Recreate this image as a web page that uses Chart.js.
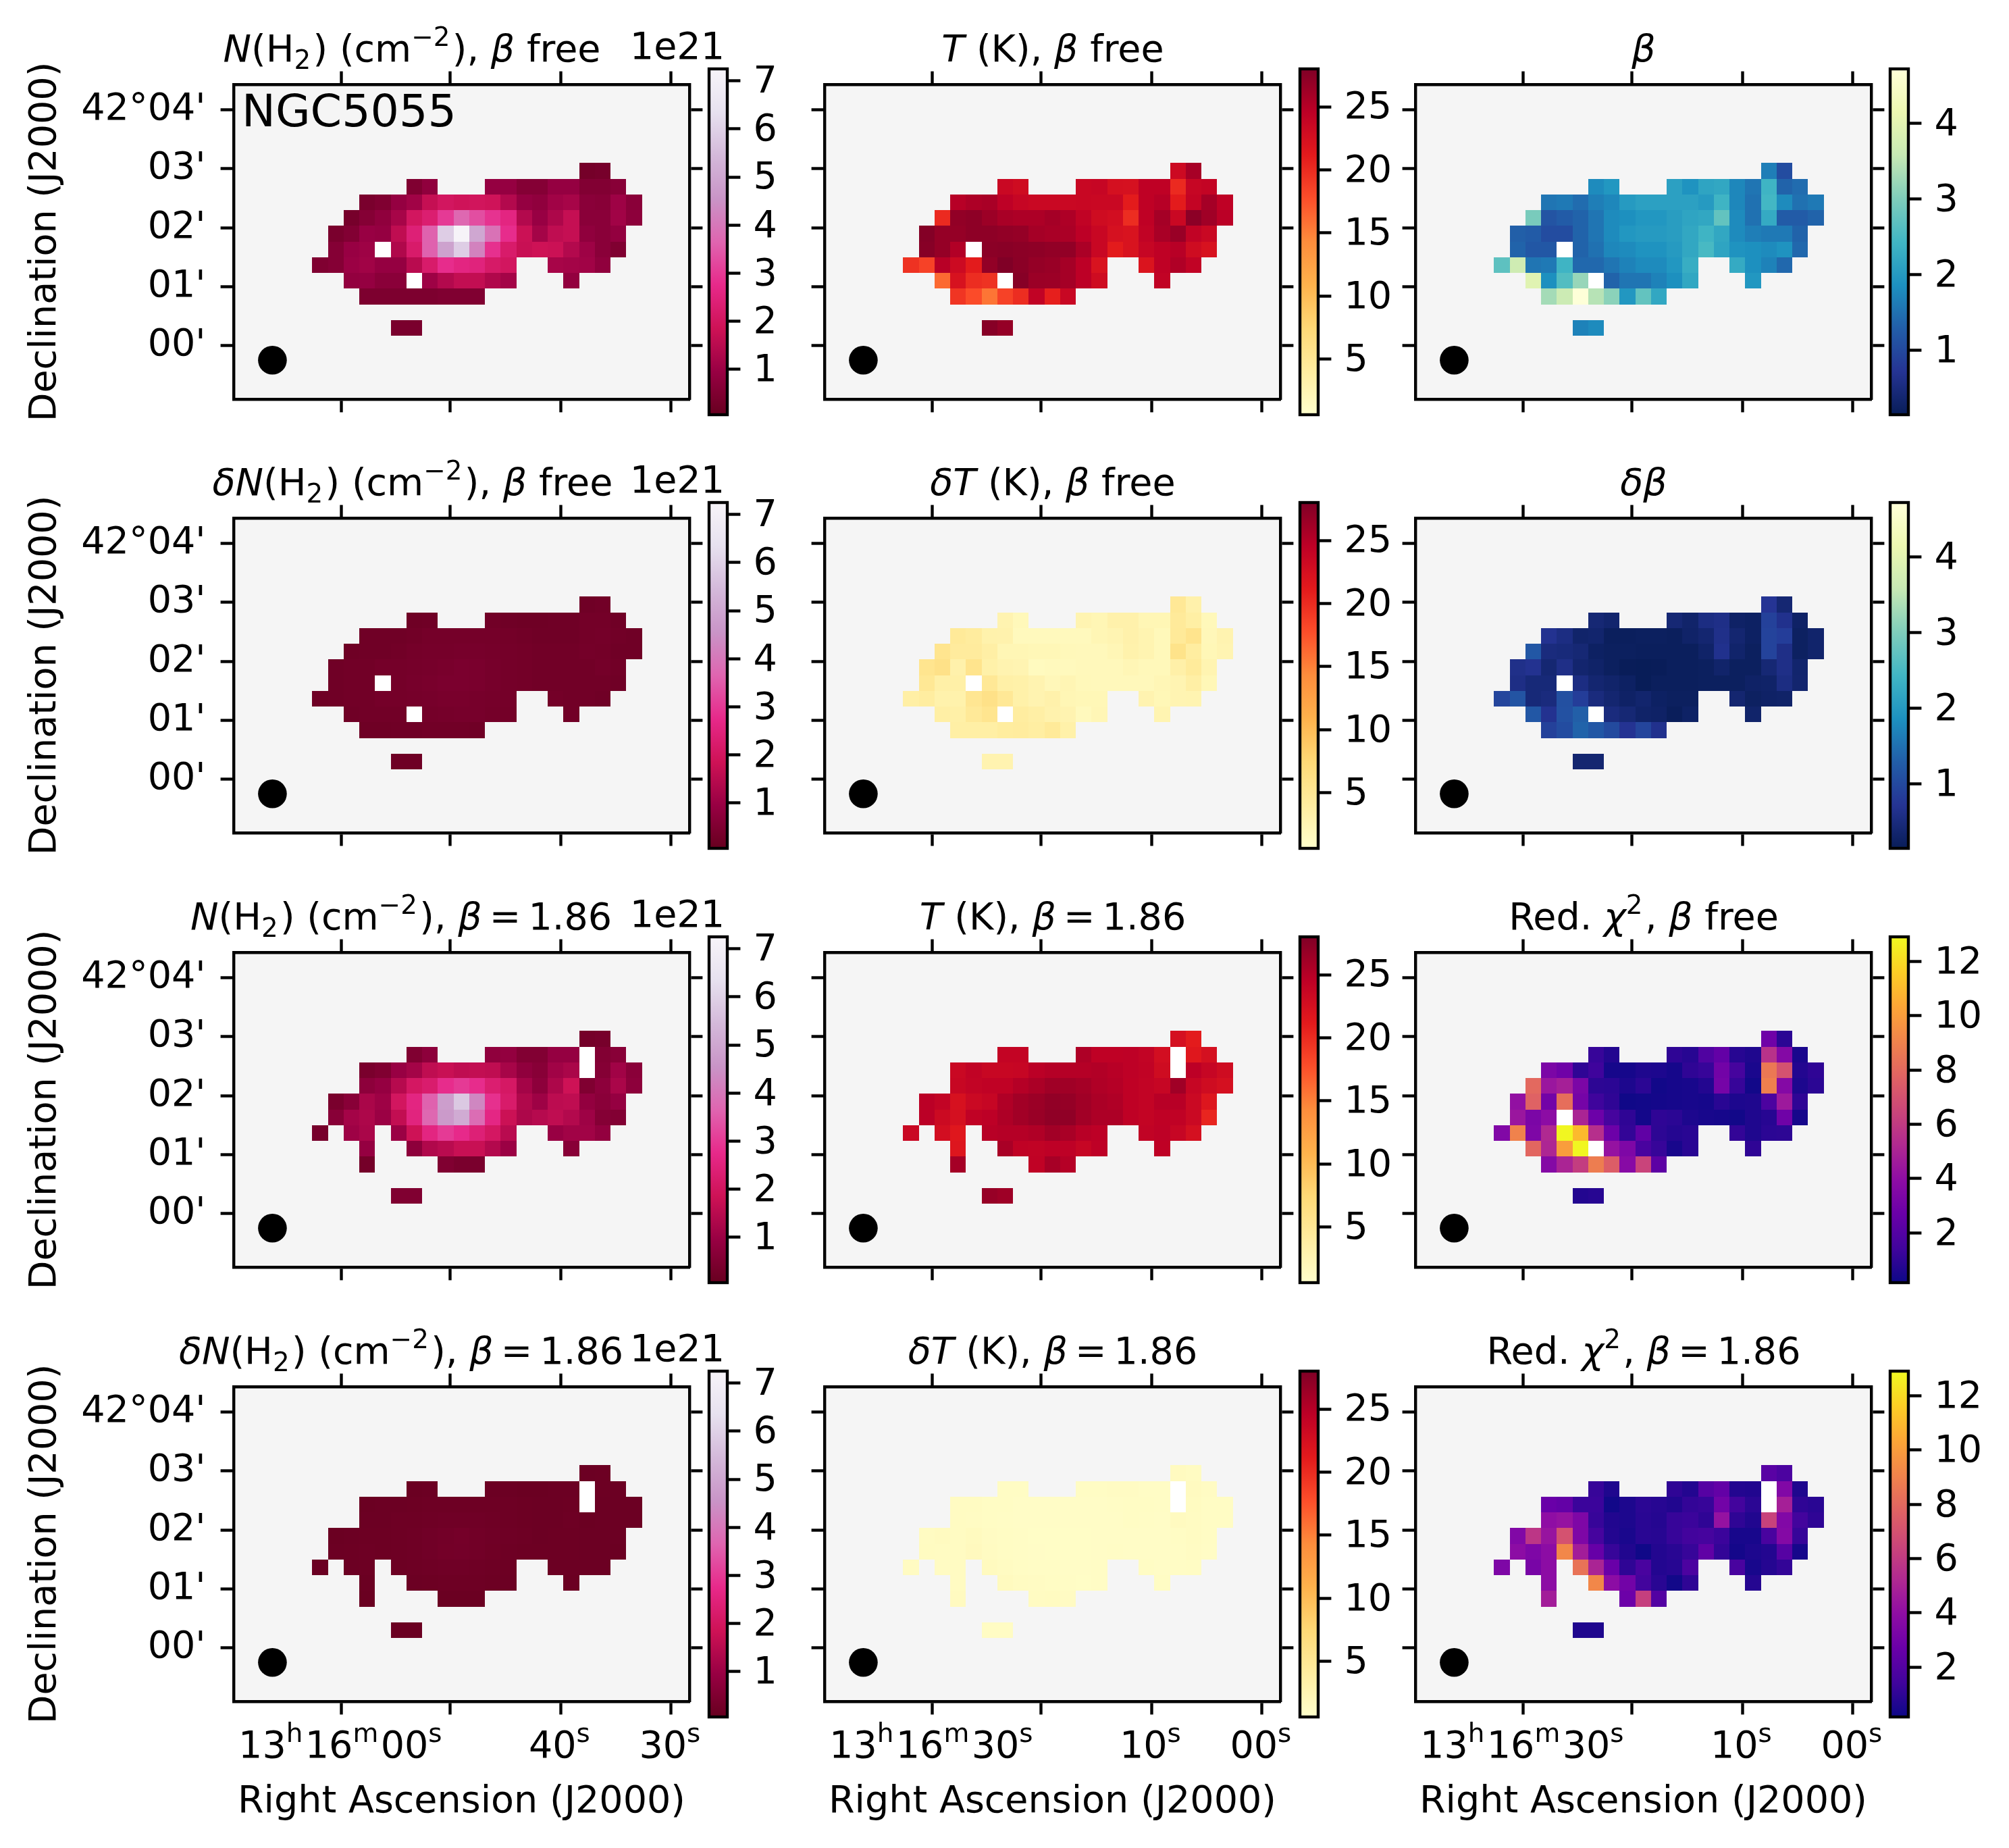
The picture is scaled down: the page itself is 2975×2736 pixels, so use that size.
<!DOCTYPE html>
<html>
<head>
<meta charset="UTF-8">
<title>NGC5055</title>
<script src="https://cdn.jsdelivr.net/npm/chart.js"></script>
<style>
  body { margin: 0; background: #fff; }
  #page { position: relative; width: 2975px; height: 2736px; overflow: hidden; }
  canvas { position: absolute; }
</style>
</head>
<body>
<div id="page"></div>
<script>
const _ = null, H = Infinity; // _ = no data, H = failed fit pixel (drawn white)

// each map: rows top to bottom, columns left to right, trimmed to the source's box
const nFree = [
  [_,_,_,_,_,_,_,_,_,_,_,_,_,_,_,_,_,.3,.35],
  [_,_,_,_,_,_,.5,.8,_,_,_,.9,.9,.6,.6,.9,.9,.55,.55,.65],
  [_,_,_,.4,.5,.9,1.1,1.7,2,1.9,1.95,1.9,1.4,.9,.8,1.1,1.2,.7,.65,1.05,.7],
  [_,_,.35,.6,.8,1.2,2,2.3,3,3.7,3.3,2.9,2.6,1.4,.95,1.3,1.7,.7,.7,1.1,.75],
  [_,.4,.55,.95,.9,1.6,2.4,3.6,5.9,7.2,5,3.9,2.8,1.8,1.15,1.6,1.7,.8,.7,.85],
  [_,.6,.95,1.05,H,1.35,2.2,3.6,4.9,5.9,4.2,2.85,2.2,1.75,1.85,1.8,1.4,1.05,.7,.5],
  [.5,.6,1,1.1,.9,.9,1.5,2.2,2.8,2.6,2.5,2.15,2,_,_,1.2,1.15,1.1,.8],
  [_,_,.85,.9,.7,.7,H,1.05,1.4,1.65,1.65,1.35,1.15,_,_,_,.85],
  [_,_,_,.45,.45,.45,.45,.45,.5,.5,.5],
  [],
  [_,_,_,_,_,.4,.4]
];
const dnFree = [
  [_,_,_,_,_,_,_,_,_,_,_,_,_,_,_,_,_,.22,.25],
  [_,_,_,_,_,_,.2,.22,_,_,_,.25,.22,.2,.2,.22,.22,.28,.28,.22],
  [_,_,_,.22,.22,.22,.25,.3,.3,.3,.3,.3,.28,.25,.22,.22,.22,.28,.3,.25,.22],
  [_,_,.2,.22,.22,.25,.3,.32,.32,.35,.35,.32,.3,.28,.25,.25,.25,.3,.28,.22,.22],
  [_,.22,.25,.25,.3,.3,.32,.35,.38,.42,.4,.35,.3,.28,.25,.25,.25,.25,.3,.25],
  [_,.22,.25,.25,H,.3,.35,.38,.42,.42,.4,.35,.3,.28,.25,.25,.25,.25,.25,.22],
  [.2,.22,.25,.25,.3,.3,.32,.35,.38,.38,.35,.32,.3,_,_,.28,.25,.25,.22],
  [_,_,.22,.25,.25,.25,H,.3,.32,.35,.35,.3,.28,_,_,_,.25],
  [_,_,_,.2,.2,.22,.22,.25,.25,.25,.22],
  [],
  [_,_,_,_,_,.2,.2]
];
const nFix = [
  [_,_,_,_,_,_,_,_,_,_,_,_,_,_,_,_,_,.3,.35],
  [_,_,_,_,_,_,.5,.75,_,_,_,.8,.85,.55,.55,.9,.9,H,.55,.65],
  [_,_,_,.4,.5,.95,1.15,1.6,1.75,1.6,1.65,1.6,1.2,.8,.65,1.1,1.25,H,.6,1.1,.7],
  [_,_,_,.75,.9,1.45,2.05,2.25,2.8,3,2.8,2.3,2.1,1.15,.75,1.3,1.85,.5,.75,1.25,.75],
  [_,.4,.65,1.25,1.05,2,2.6,3.6,4.8,5.8,4.3,2.85,2.2,1.35,1.05,1.55,1.6,.85,.7,.9],
  [_,.65,1.15,1.3,1,1.65,2.55,3.7,4.7,5.1,3.8,2.65,1.8,1.3,1.45,1.6,1.4,1.05,.6,.55],
  [.35,_,1.05,1.25,_,1,1.85,2.6,3,2.75,2.4,2.05,1.5,_,_,.95,1.1,1.1,.85],
  [_,_,_,.9,_,_,.75,1.35,1.5,1.75,1.75,1.4,1,_,_,_,.65],
  [_,_,_,.3,_,_,_,_,.5,.4,.4],
  [],
  [_,_,_,_,_,.5,.5]
];
const dnFix = [
  [_,_,_,_,_,_,_,_,_,_,_,_,_,_,_,_,_,.14,.16],
  [_,_,_,_,_,_,.13,.14,_,_,_,.15,.15,.13,.13,.15,.15,H,.16,.15],
  [_,_,_,.13,.14,.15,.16,.18,.18,.18,.18,.18,.17,.16,.14,.15,.16,H,.14,.15,.14],
  [_,_,_,.14,.15,.17,.18,.2,.22,.22,.22,.2,.18,.16,.14,.15,.17,.13,.14,.15,.14],
  [_,.13,.14,.16,.16,.18,.2,.24,.27,.3,.26,.22,.19,.17,.15,.16,.16,.14,.14,.14],
  [_,.14,.16,.17,.16,.18,.2,.24,.28,.29,.25,.21,.18,.16,.16,.16,.16,.15,.14,.13],
  [.12,_,.15,.16,_,.16,.18,.2,.22,.22,.2,.18,.16,_,_,.15,.15,.15,.14],
  [_,_,_,.13,_,_,.14,.16,.17,.18,.18,.16,.15,_,_,_,.13],
  [_,_,_,.11,_,_,_,_,.13,.12,.12],
  [],
  [_,_,_,_,_,.12,.12]
];
const tFree = [
  [_,_,_,_,_,_,_,_,_,_,_,_,_,_,_,_,_,23.2,25.8],
  [_,_,_,_,_,_,23.5,23,_,_,_,23.6,23.8,22.5,22.4,24.4,24.4,20.1,23.8,24],
  [_,_,_,24.9,25.5,25.7,24.5,23.8,23.5,23.5,23.5,23.6,23.5,23.5,21.1,24.4,24.9,21.1,24,25.9,24.4],
  [_,_,20.1,27,27.2,26.4,25.7,25.5,25.5,25.9,25.4,24.2,23,22.7,19.9,24.4,25.9,23.5,27.3,26.2,24.7],
  [_,27.8,26.8,26.8,27.2,27.2,27,26.8,25.9,25.7,25.6,24.6,23.6,22.4,22.1,24.2,25.7,26.6,24.2,23.5],
  [_,27.6,26.8,25.2,H,27.4,27.5,27.3,27.2,27,27,25.6,23.6,21.1,22.1,23.8,24.4,24.85,23,22.2],
  [19.6,18.5,24.85,23.2,21.1,27,28,27.4,26.8,26.6,25.9,24.6,22.1,_,_,22,24.4,25.3,24.2],
  [_,_,16.2,22.2,19.9,19.6,H,27.6,26.5,26.4,25.9,24.6,23,_,_,_,24.2],
  [_,_,_,19.4,17.9,15.6,18.5,19.9,24.2,20.8,23.6],
  [],
  [_,_,_,_,_,27.6,26.8]
];
const dtFree = [
  [_,_,_,_,_,_,_,_,_,_,_,_,_,_,_,_,_,4.8,3.2],
  [_,_,_,_,_,_,2.8,2,_,_,_,2.7,2.4,3.2,3.2,2.4,2.4,4.5,3.7,2],
  [_,_,_,4.6,4.2,3.1,3,1.8,1.8,1.8,1.8,1.8,2.4,2.6,3.2,2.7,2,4.6,5.6,2.1,2.8],
  [_,_,5.4,4.3,4.3,3.6,2.4,2.4,2.2,2.2,2,1.9,1.9,2.3,3.1,2.7,2,5.8,4,2.2,2.6],
  [_,5.4,6,3.2,5.6,3.3,2.8,2.6,1.6,1.8,1.8,1.9,1.9,1.9,2.3,2,2,3.4,4.4,2.7],
  [_,4.9,3.5,3.5,H,4.8,3.5,3.3,2.8,2.1,2.5,2,1.9,1.9,1.9,1.9,2.3,2.6,3.6,2.2],
  [3.6,4,3.1,3.1,5.2,6,4.8,3.3,2.8,3.2,2.4,2.2,2.2,_,_,2.8,2.2,2.6,2.7],
  [_,_,3.6,3.5,4.7,5.4,H,4,3.6,3,2.8,1.8,2.3,_,_,_,2.7],
  [_,_,_,3.6,3.6,3.6,4.1,4.2,3.9,4.6,3.3],
  [],
  [_,_,_,_,_,2.8,2.8]
];
const tFix = [
  [_,_,_,_,_,_,_,_,_,_,_,_,_,_,_,_,_,22.5,21.1],
  [_,_,_,_,_,_,24,24,_,_,_,25.4,24.4,24.4,24.5,24.1,22.7,H,21.5,22.5],
  [_,_,_,23.5,24.2,23.7,23.7,23.8,24.7,25,25,25,25.2,24.85,24.5,24.2,23,H,24.6,23.8,23],
  [_,_,_,23.7,24.1,24.3,24.3,25,25.6,26.2,26.2,25.9,25.3,25,24.4,24.1,23.8,26.2,23.8,23,22.5],
  [_,24.7,24.1,22.3,23.4,23.8,25.3,26.1,26.5,27,26.8,26.2,25.6,25.3,24.4,24.1,24.85,24.85,23.4,21.7],
  [_,24.7,23.3,22.5,24.3,24.6,25.4,26.1,26.6,27.1,27.1,26.1,25.5,25.5,24.4,24,24.4,24.3,23.4,20.4],
  [23.5,_,22.7,21.5,_,24.85,25,25,25.3,26.1,25.7,24.85,24.6,_,_,24.2,24.5,23.8,22.5],
  [_,_,_,21.7,_,_,25.7,24.3,24.2,24.5,24.5,23.8,24.5,_,_,_,24.4],
  [_,_,_,25.9,_,_,_,_,24.3,25.8,25],
  [],
  [_,_,_,_,_,26.7,26.3]
];
const dtFix = [
  [_,_,_,_,_,_,_,_,_,_,_,_,_,_,_,_,_,1.5,1.4],
  [_,_,_,_,_,_,1.25,1.2,_,_,_,1.2,1.2,1.3,1.3,1.15,1.15,H,1.5,1.3],
  [_,_,_,1.4,1.35,1.25,1.2,1.1,1.1,1.1,1.1,1.1,1.1,1.15,1.25,1.2,1.15,H,1.45,1.2,1.25],
  [_,_,_,1.35,1.3,1.25,1.15,1.1,1.1,1.1,1.1,1.1,1.1,1.1,1.25,1.15,1.1,1.5,1.35,1.2,1.2],
  [_,1.4,1.5,1.4,1.6,1.3,1.2,1.15,1.05,1.05,1.05,1.05,1.1,1.1,1.1,1.1,1.1,1.2,1.4,1.25],
  [_,1.45,1.35,1.35,1.7,1.35,1.2,1.15,1.1,1.05,1.05,1.05,1.1,1.15,1.1,1.1,1.1,1.15,1.3,1.15],
  [1.4,_,1.3,1.35,_,1.6,1.4,1.2,1.15,1.15,1.1,1.1,1.15,_,_,1.2,1.1,1.15,1.2],
  [_,_,_,1.4,_,_,1.6,1.35,1.3,1.2,1.15,1.05,1.15,_,_,_,1.2],
  [_,_,_,1.5,_,_,_,_,1.35,1.45,1.3],
  [],
  [_,_,_,_,_,1.2,1.2]
];
const betaFree = [
  [_,_,_,_,_,_,_,_,_,_,_,_,_,_,_,_,_,1.65,1.05],
  [_,_,_,_,_,_,1.8,1.95,_,_,_,2.1,1.9,2.15,2.2,1.75,1.55,2.4,1.35,1.45],
  [_,_,_,1.55,1.6,1.45,1.65,1.75,2,2.1,2.1,2.1,2.1,2,2.4,1.75,1.5,2.45,1.8,1.5,1.6],
  [_,_,2.95,1.15,1.25,1.35,1.55,1.8,1.85,1.95,1.95,2.05,2.15,2.2,2.75,1.8,1.5,2.25,1.25,1.25,1.35],
  [_,1.3,1.25,1.05,1.05,1.35,1.55,1.8,1.95,2,2,2.05,2.2,2.4,2.2,1.8,1.65,1.6,1.6,1.35],
  [_,1.35,1.2,1.2,H,1.35,1.5,1.75,1.8,1.9,1.9,2,2.2,2.5,2.15,1.9,1.85,1.8,1.9,1.4],
  [2.7,3.7,1.55,1.6,2.4,1.4,1.4,1.55,1.7,1.8,1.8,1.95,2.3,_,_,2.25,1.85,1.7,1.4],
  [_,_,3.95,1.85,2.6,3.2,H,1.35,1.55,1.55,1.7,1.85,2.2,_,_,_,1.95],
  [_,_,_,3.3,3.65,4.7,3.45,3.1,1.95,2.75,2.2],
  [],
  [_,_,_,_,_,1.7,1.8]
];
const dBeta = [
  [_,_,_,_,_,_,_,_,_,_,_,_,_,_,_,_,_,.72,.4],
  [_,_,_,_,_,_,.42,.35,_,_,_,.42,.32,.55,.6,.28,.25,.9,.65,.28],
  [_,_,_,.68,.55,.32,.35,.2,.2,.22,.22,.2,.3,.38,.62,.38,.25,.92,.85,.24,.33],
  [_,_,1.2,.5,.47,.42,.25,.22,.22,.2,.2,.2,.2,.3,.65,.33,.22,.92,.6,.24,.33],
  [_,.62,.68,.4,.6,.36,.3,.22,.16,.14,.16,.2,.2,.22,.32,.22,.22,.42,.6,.35],
  [_,.58,.45,.45,H,.55,.38,.32,.25,.14,.2,.2,.2,.22,.22,.22,.28,.3,.55,.36],
  [.95,1.15,.45,.5,1.1,.85,.5,.38,.28,.35,.25,.22,.22,_,_,.38,.24,.28,.3],
  [_,_,1.2,.68,1.12,1.3,H,.5,.42,.3,.28,.18,.27,_,_,_,.32],
  [_,_,_,.9,1.05,1.35,1.2,1.02,.7,.95,.65],
  [],
  [_,_,_,_,_,.38,.38]
];
const chiFree = [
  [_,_,_,_,_,_,_,_,_,_,_,_,_,_,_,_,_,2.9,.9],
  [_,_,_,_,_,_,1.2,.7,_,_,_,1,.8,1.9,2.5,.8,.6,5.6,3.6,.5],
  [_,_,_,3.3,2.9,1,1.4,.4,.4,.6,.55,.4,1,1.2,3,1.6,.5,8.6,7,.7,1],
  [_,_,8,4.4,4.8,3.3,.95,.9,.55,.9,.3,.4,.45,.7,3.1,1.2,.3,8.9,3.6,.55,.9],
  [_,4.1,7.7,3,8.2,3.1,1.4,1,.25,.3,.35,.4,.45,.4,.85,.55,.6,1.8,4.5,1],
  [_,4.4,3.3,3.9,H,5,2.8,1.6,1,.35,1,.9,.55,.45,.4,.3,.6,.8,2.9,.4],
  [3.5,9,3.4,5.2,12.8,11,5.5,2.8,1.1,2.4,.95,.75,.85,_,_,1.1,.6,.9,.95],
  [_,_,7.9,5.1,10,12.8,H,4.2,3.4,1.7,1.2,.45,.85,_,_,_,1],
  [_,_,_,3.6,5,6.1,8.8,7.5,3.7,6.4,2.3],
  [],
  [_,_,_,_,_,.7,.8]
];
const chiFix = [
  [_,_,_,_,_,_,_,_,_,_,_,_,_,_,_,_,_,2.2,1.8],
  [_,_,_,_,_,_,1.2,.6,_,_,_,1,.7,2.1,2.5,.7,.65,H,3.5,.6],
  [_,_,_,2.7,2.5,1.3,1.3,.3,.55,.9,.8,.65,1.1,1.2,3,1.5,.9,H,4.8,1,.85],
  [_,_,_,4,4.2,3.4,1.2,.65,.55,.85,.75,1.2,1.3,1,4.2,1,.65,6.3,3.5,1.5,1],
  [_,3.5,5.8,4.3,7,3.4,1.6,.7,.5,.85,.8,1.2,1.5,1.6,1.3,.45,.45,1.7,3.6,1.2],
  [_,3.9,3.4,3.9,9.2,4.7,2.6,1.2,.65,.25,.7,.85,1.2,2.4,1.1,.35,.55,.7,2.1,.4],
  [3.4,_,3.2,3.9,_,8.4,5,2.7,1,1.7,.7,.8,1.8,_,_,1.7,.45,.75,1.1],
  [_,_,_,3.9,_,_,9.2,3.9,3,1.5,.85,.3,1,_,_,_,.75],
  [_,_,_,4.7,_,_,_,_,2.8,6.2,2],
  [],
  [_,_,_,_,_,.6,.6]
];

// colour scale limits and colour bar ticks
const nRange = [.05, 7.25],  nTicks = [1, 2, 3, 4, 5, 6, 7];
const tRange = [.6, 28],     tTicks = [5, 10, 15, 20, 25];
const betaRange = [.15, 4.72], betaTicks = [1, 2, 3, 4];
const chiRange = [.17, 12.9], chiTicks = [2, 4, 6, 8, 10, 12];

const puRdR = ['#67001f','#980043','#ce1256','#e7298a','#df65b0','#c994c7','#d4b9da','#e7e1ef','#f7f4f9'];
const ylOrRd = ['#ffffcc','#ffeda0','#fed976','#feb24c','#fd8d3c','#fc4e2a','#e31a1c','#bd0026','#800026'];
const ylGnBuR = ['#081d58','#253494','#225ea8','#1d91c0','#41b6c4','#7fcdbb','#c7e9b4','#edf8b1','#ffffd9'];
const plasma = ['#0d0887','#41049d','#6a00a8','#8f0da4','#b12a90','#cc4778','#e16462','#f1844b','#fca636','#fcce25','#f0f921'];

// axis ticks, in pixels of the map
const raTicks = [6.86, 13.8, 20.82, 27.85];
const decTicks = [1.61, 5.37, 9.13, 12.88, 16.62];
const decLabels = ["42°04'", "03'", "02'", "01'", "00'"];
const raLabelsA = ['13h16m00s', '', '40s', '30s'];
const raLabelsB = ['13h16m30s', '', '10s', '00s'];

const BETA = ['β', 'i'];
const titleNFree = [['N','i'],['(H'],['2','sub'],[') (cm'],['−2','sup'],['), '],BETA,[' free']];
const titleDnFree = [['δN','i'],['(H'],['2','sub'],[') (cm'],['−2','sup'],['), '],BETA,[' free']];
const titleNFix = [['N','i'],['(H'],['2','sub'],[') (cm'],['−2','sup'],['), '],BETA,['\u2009=\u20091.86']];
const titleDnFix = [['δN','i'],['(H'],['2','sub'],[') (cm'],['−2','sup'],['), '],BETA,['\u2009=\u20091.86']];
const titleTFree = [['T','i'],[' (K), '],BETA,[' free']];
const titleDtFree = [['δT','i'],[' (K), '],BETA,[' free']];
const titleTFix = [['T','i'],[' (K), '],BETA,['\u2009=\u20091.86']];
const titleDtFix = [['δT','i'],[' (K), '],BETA,['\u2009=\u20091.86']];
const titleBeta = [BETA];
const titleDBeta = [['δβ','i']];
const titleChiFree = [['Red. '],['χ','i'],['2','sup'],[', '],BETA,[' free']];
const titleChiFix = [['Red. '],['χ','i'],['2','sup'],[', '],BETA,['\u2009=\u20091.86']];

const N = { colors: puRdR, range: nRange, ticks: nTicks };
const T = { colors: ylOrRd, range: tRange, ticks: tTicks };
const B = { colors: ylGnBuR, range: betaRange, ticks: betaTicks };
const C = { colors: plasma, range: chiRange, ticks: chiTicks };

// layout, in page pixels
const colLeft = [346, 1221, 2096], rowTop = [125, 767, 1410, 2053];
const panelW = 675, panelH = 466, cellSize = 23.25;
const cbLeft = [1050, 1925, 2799], cbW = 27, cbOverhang = 23;
const FS = 55.56, LW = 4.4, TICK = 19.4;
const FONT = '"DejaVu Sans"';

const panels = [
  [nFree, N, titleNFree, 610], [tFree, T, titleTFree, 1559], [betaFree, B, titleBeta, 2434],
  [dnFree, N, titleDnFree, 611], [dtFree, T, titleDtFree, 1559], [dBeta, B, titleDBeta, 2434],
  [nFix, N, titleNFix, 594], [tFix, T, titleTFix, 1559], [chiFree, C, titleChiFree, 2434],
  [dnFix, N, titleDnFix, 594], [dtFix, T, titleDtFix, 1559], [chiFix, C, titleChiFix, 2434]
];

Chart.defaults.font.family = FONT;
Chart.defaults.font.size = FS;
Chart.defaults.color = '#000';

function hexRgb(h) {
  return [1, 3, 5].map(i => parseInt(h.substr(i, 2), 16));
}

function cmap(colors, range, v) {
  if (v === H) return '#fff';
  let t = (v - range[0]) / (range[1] - range[0]);
  t = Math.min(1, Math.max(0, t)) * (colors.length - 1);
  const i = Math.min(colors.length - 2, Math.floor(t));
  const a = hexRgb(colors[i]), b = hexRgb(colors[i + 1]);
  const c = a.map((x, k) => Math.round(x + (b[k] - x) * (t - i)));
  return `rgb(${c[0]},${c[1]},${c[2]})`;
}

function setRun(ctx, style) {
  const small = style === 'sup' || style === 'sub';
  const it = style === 'i' ? 'italic ' : '';
  ctx.font = `${it}${small ? FS * 0.7 : FS}px ${FONT}`;
}

function runWidth(ctx, r) {
  setRun(ctx, r[1]);
  const small = r[1] === 'sup' || r[1] === 'sub';
  return ctx.measureText(r[0]).width + (small ? FS * 0.06 : 0);
}

// draws mixed italic / sub / superscript text
function drawRich(ctx, runs, cx, y) {
  let w = 0;
  runs.forEach(r => { w += runWidth(ctx, r); });
  let x = cx - w / 2;
  ctx.textAlign = 'left';
  ctx.textBaseline = 'alphabetic';
  ctx.fillStyle = '#000';
  runs.forEach(r => {
    const adv = runWidth(ctx, r);
    setRun(ctx, r[1]);
    const dy = r[1] === 'sup' ? -FS * 0.42 : r[1] === 'sub' ? FS * 0.2 : 0;
    ctx.fillText(r[0], x, y + dy);
    x += adv;
  });
}

function raRuns(label) {
  const runs = [];
  label.replace(/(\d+)([hms])/g, (m, d, u) => { runs.push([d]); runs.push([u, 'sup']); return m; });
  return runs;
}

const mapPainter = {
  id: 'mapPainter',
  beforeDraw(chart) {
    const a = chart.chartArea, ctx = chart.ctx;
    ctx.fillStyle = '#f5f5f5';
    ctx.fillRect(a.left, a.top, a.right - a.left, a.bottom - a.top);
  },
  beforeDatasetsDraw(chart, args, o) {
    const ctx = chart.ctx, sx = chart.scales.x, sy = chart.scales.y;
    chart.data.datasets[0].data.forEach(p => {
      const x0 = Math.round(sx.getPixelForValue(p.x)), x1 = Math.round(sx.getPixelForValue(p.x + 1));
      const y0 = Math.round(sy.getPixelForValue(p.y)), y1 = Math.round(sy.getPixelForValue(p.y + 1));
      ctx.fillStyle = cmap(o.scale.colors, o.scale.range, p.v);
      ctx.fillRect(x0, y0, x1 - x0, y1 - y0);
    });
  },
  afterDraw(chart, args, o) {
    const ctx = chart.ctx, sx = chart.scales.x, sy = chart.scales.y, a = chart.chartArea;
    // beam
    ctx.fillStyle = '#000';
    ctx.beginPath();
    ctx.arc(sx.getPixelForValue(2.47), sy.getPixelForValue(17.56), 21.3, 0, Math.PI * 2);
    ctx.fill();
    // title
    drawRich(ctx, o.title, o.titleX - o.canvasLeft, a.top - 34);
    if (o.col === 0) {
      ctx.font = `${FS}px ${FONT}`;
      ctx.textAlign = 'right';
      ctx.fillText('1e21', a.right + 52, a.top - 38.5);
    }
    if (o.first) {
      ctx.font = `66.7px ${FONT}`;
      ctx.textAlign = 'left';
      ctx.fillText('NGC5055', a.left + 12, a.top + 62);
    }
    if (o.raLabels) {
      o.raLabels.forEach((lab, i) => {
        if (lab) drawRich(ctx, raRuns(lab), sx.getPixelForValue(raTicks[i]), a.bottom + 83);
      });
    }
  }
};

const colorBarPainter = {
  id: 'colorBarPainter',
  beforeDatasetsDraw(chart, args, o) {
    const ctx = chart.ctx, a = chart.chartArea, sy = chart.scales.y;
    const g = ctx.createLinearGradient(0, sy.getPixelForValue(o.scale.range[0]), 0, sy.getPixelForValue(o.scale.range[1]));
    o.scale.colors.forEach((c, i) => g.addColorStop(i / (o.scale.colors.length - 1), c));
    ctx.fillStyle = g;
    ctx.fillRect(a.left, a.top, a.right - a.left, a.bottom - a.top);
    ctx.strokeStyle = '#000';
    ctx.lineWidth = LW;
    ctx.strokeRect(a.left, a.top, a.right - a.left, a.bottom - a.top);
  }
};

function addCanvas(left, top, w, h) {
  const c = document.createElement('canvas');
  c.width = w; c.height = h;
  c.style.left = left + 'px'; c.style.top = top + 'px';
  c.style.width = w + 'px'; c.style.height = h + 'px';
  document.getElementById('page').appendChild(c);
  return c;
}

function axisBase(pos, tickVals, extra) {
  return Object.assign({
    type: 'linear',
    position: pos,
    grid: { drawOnChartArea: false, drawTicks: true, tickLength: TICK, tickWidth: LW, tickColor: '#000' },
    border: { display: true, color: '#000', width: LW },
    ticks: { display: false, autoSkip: false },
    afterBuildTicks: s => { s.ticks = tickVals.map(v => ({ value: v })); }
  }, extra);
}

panels.forEach((p, i) => {
  const row = Math.floor(i / 3), col = i % 3;
  const L = col === 0 ? colLeft[0] : 40, R = col === 0 ? 62 : 30, TOP = 115;
  const BOT = row === 3 ? 183 : 60;
  const left = colLeft[col] - L, top = rowTop[row] - TOP;
  const canvas = addCanvas(left, top, L + panelW + R, TOP + panelH + BOT);
  const cells = [];
  p[0].forEach((vals, r) => vals.forEach((v, c) => {
    if (v !== _) cells.push({ x: c + 5, y: r + 5, v: v });
  }));
  const xMax = panelW / cellSize, yMax = panelH / cellSize;
  new Chart(canvas, {
    type: 'scatter',
    data: { datasets: [{ data: cells, pointRadius: 0, showLine: false, xAxisID: 'x', yAxisID: 'y' }] },
    options: {
      responsive: false,
      animation: false,
      events: [],
      layout: { padding: 0 },
      scales: {
        x: axisBase('bottom', raTicks, {
          min: 0, max: xMax,
          title: { display: row === 3, text: 'Right Ascension (J2000)', padding: 0, font: { size: FS } },
          afterFit: s => { s.height = BOT; }
        }),
        x2: axisBase('top', raTicks, { axis: 'x', min: 0, max: xMax, afterFit: s => { s.height = TOP; } }),
        y: axisBase('left', decTicks, {
          min: 0, max: yMax, reverse: true,
          title: { display: col === 0, text: 'Declination (J2000)', padding: { top: 34, bottom: 0 }, font: { size: FS } },
          ticks: {
            display: col === 0, autoSkip: false, padding: 22, font: { size: FS },
            callback: (v, k) => decLabels[k]
          },
          afterFit: s => { s.width = L; }
        }),
        y2: axisBase('right', decTicks, { axis: 'y', min: 0, max: yMax, reverse: true, afterFit: s => { s.width = R; } })
      },
      plugins: {
        legend: { display: false },
        tooltip: { enabled: false },
        mapPainter: {
          scale: p[1], title: p[2], titleX: p[3], canvasLeft: left, col: col, first: i === 0,
          raLabels: row === 3 ? (col === 0 ? raLabelsA : raLabelsB) : null
        }
      }
    },
    plugins: [mapPainter]
  });

  // colour bar next to the map
  const pad = 60, rightBox = 130;
  const cbH = panelH + 2 * cbOverhang;
  const cb = addCanvas(cbLeft[col] - 4, rowTop[row] - cbOverhang - pad, 4 + cbW + rightBox, cbH + 2 * pad);
  new Chart(cb, {
    type: 'scatter',
    data: { datasets: [{ data: [], pointRadius: 0 }] },
    options: {
      responsive: false,
      animation: false,
      events: [],
      layout: { padding: { left: 4, right: 0, top: pad, bottom: pad } },
      scales: {
        x: { display: false, type: 'linear', min: 0, max: 1 },
        y: {
          type: 'linear',
          position: 'right',
          min: p[1].range[0], max: p[1].range[1],
          grid: { drawOnChartArea: false, drawTicks: true, tickLength: TICK, tickWidth: LW, tickColor: '#000' },
          border: { display: false },
          ticks: { autoSkip: false, padding: 19, labelOffset: 3, font: { size: FS }, callback: v => String(v) },
          afterBuildTicks: s => { s.ticks = p[1].ticks.map(v => ({ value: v })); },
          afterFit: s => { s.width = rightBox; }
        }
      },
      plugins: {
        legend: { display: false },
        tooltip: { enabled: false },
        colorBarPainter: { scale: p[1] }
      }
    },
    plugins: [colorBarPainter]
  });
});
</script>
</body>
</html>
